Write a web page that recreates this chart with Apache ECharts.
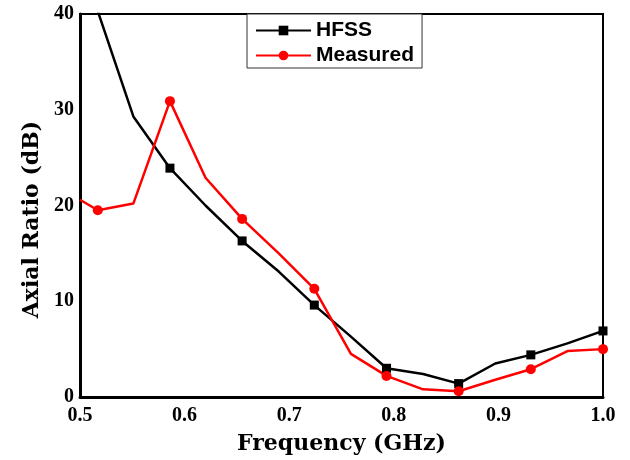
<!DOCTYPE html>
<html>
<head>
<meta charset="utf-8">
<script src="https://cdn.jsdelivr.net/npm/echarts@6/dist/echarts.min.js"></script>
<style>
  html, body { margin: 0; padding: 0; background: #fff; }
  #chart { width: 630px; height: 460px; }
</style>
</head>
<body>
<div id="chart"></div>
<script>
// frequency points (GHz)
const freqs = [0.5, 0.517, 0.551, 0.586, 0.62, 0.655, 0.69, 0.724, 0.759, 0.793, 0.828, 0.862, 0.897, 0.931, 0.966, 1.0];
const hfss = [45.5, 40.3, 29.3, 23.9, 20.0, 16.3, 13.1, 9.6, 6.3, 3.0, 2.4, 1.4, 3.5, 4.4, 5.6, 6.9];
const measured = [20.6, 19.5, 20.2, 30.9, 22.9, 18.6, 15.0, 11.3, 4.5, 2.2, 0.8, 0.6, 1.8, 2.9, 4.8, 5.0];
// only every other point carries a marker
const markedIdx = [1, 3, 5, 7, 9, 11, 13, 15];

const xTicks = ['0.5', '0.6', '0.7', '0.8', '0.9', '1.0'];

function pairs(ys) {
    return freqs.map(function (f, i) {
        return {
            value: [f, ys[i]],
            symbolSize: markedIdx.indexOf(i) >= 0 ? undefined : 0
        };
    });
}

const serif = 'Liberation Serif';
const nameFont = {
    fontFamily: 'DejaVu Serif',
    fontWeight: 'bold',
    fontSize: 22,
    color: '#000'
};

const option = {
    animation: false,
    grid: {
        left: 80,
        right: 27,
        top: 14,
        bottom: 63,
        show: true,
        borderColor: '#000',
        borderWidth: 2
    },
    legend: {
        left: 247,
        top: 14,
        orient: 'vertical',
        itemWidth: 55,
        itemHeight: 12,
        itemGap: 4,
        padding: [6, 8, 2, 8],
        borderColor: '#333',
        borderWidth: 1,
        backgroundColor: '#fff',
        textStyle: {
            fontFamily: 'Liberation Sans',
            fontWeight: 'bold',
            fontSize: 21,
            color: '#000'
        },
        data: ['HFSS', 'Measured']
    },
    xAxis: {
        type: 'value',
        min: 0.5,
        max: 1.0,
        interval: 0.1,
        name: 'Frequency (GHz)',
        nameLocation: 'middle',
        nameGap: 36,
        nameTextStyle: nameFont,
        axisLine: { lineStyle: { color: '#000', width: 3 } },
        axisTick: { show: false },
        splitLine: { show: false },
        axisLabel: {
            margin: 9,
            fontFamily: serif,
            fontWeight: 'bold',
            fontSize: 20,
            color: '#000',
            formatter: function (v) {
                const s = v.toFixed(1);
                return xTicks.indexOf(s) >= 0 ? s : '';
            }
        }
    },
    yAxis: {
        type: 'value',
        min: 0,
        max: 40,
        interval: 10,
        name: 'Axial Ratio (dB)',
        nameLocation: 'middle',
        nameGap: 36,
        nameTextStyle: Object.assign({ padding: [0, 28, 0, 0] }, nameFont),
        axisLine: { lineStyle: { color: '#000', width: 3 } },
        axisTick: { show: false },
        splitLine: { show: false },
        axisLabel: {
            margin: 6,
            fontFamily: serif,
            fontWeight: 'bold',
            fontSize: 20,
            color: '#000'
        }
    },
    series: [
        {
            name: 'HFSS',
            type: 'line',
            data: pairs(hfss),
            symbol: 'rect',
            symbolSize: 9,
            showAllSymbol: true,
            clip: true,
            color: '#000',
            lineStyle: { color: '#000', width: 2.5 },
            itemStyle: { color: '#000' }
        },
        {
            name: 'Measured',
            type: 'line',
            data: pairs(measured),
            symbol: 'circle',
            symbolSize: 10,
            showAllSymbol: true,
            clip: true,
            color: '#f00',
            lineStyle: { color: '#f00', width: 2.5 },
            itemStyle: { color: '#f00' }
        }
    ]
};

const chart = echarts.init(document.getElementById('chart'), null, { renderer: 'canvas' });
chart.setOption(option);
</script>
</body>
</html>
